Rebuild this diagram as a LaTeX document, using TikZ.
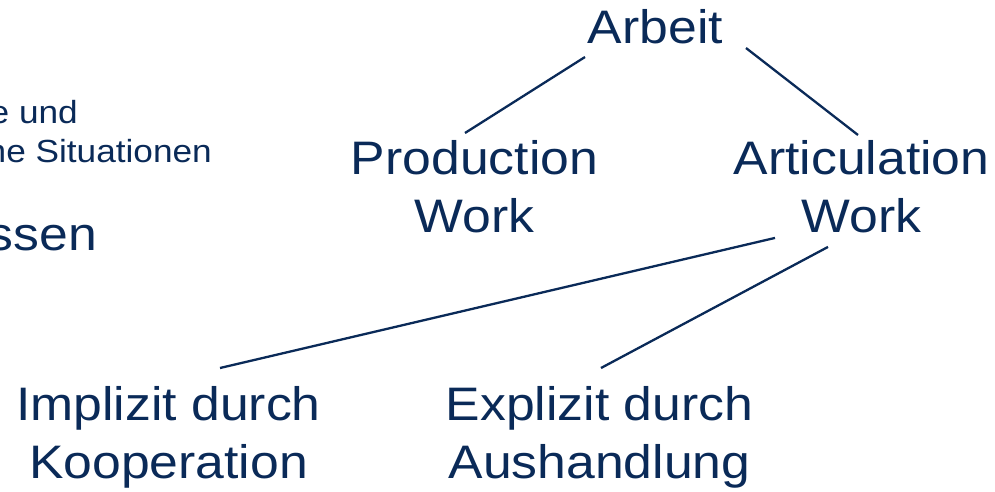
\documentclass[tikz,border=0pt]{standalone}
\usepackage{fontspec}
\setmainfont[FakeStretch=1.1]{Liberation Sans}
\definecolor{navy}{HTML}{0A2A58}
\begin{document}
\begin{tikzpicture}[x=1pt,y=-1pt,
  main/.style={font=\fontsize{47}{58}\selectfont, text=navy, inner sep=0pt, align=center},
  small/.style={font=\fontsize{32}{39}\selectfont, text=navy, inner sep=0pt},
  link/.style={draw=navy, line width=2.3pt}]
\useasboundingbox (0,0) rectangle (995,491);
\begin{scope}
\clip (0,0) rectangle (995,491);
\node[small, anchor=base east] (t1) at (78,123) {e und};
\node[small, anchor=base east] (t2) at (212,162) {ne Situationen};
\node[main, anchor=base east] (t3) at (97,250) {ssen};
\end{scope}
\node[main, anchor=base] (arbeit) at (655.5,43) {Arbeit};
\node[main, anchor=north] (prod) at (474.5,140) {Production\\Work};
\node[main, anchor=north] (artic) at (861.5,140) {Articulation\\Work};
\node[main, anchor=north] (impl) at (168.5,386) {Implizit durch\\Kooperation};
\node[main, anchor=north] (expl) at (599.5,386) {Explizit durch\\Aushandlung};
\draw[link] ([shift={(-70.5,14)}]arbeit.base) -- ([shift={(-9.5,-7)}]prod.north);
\draw[link] ([shift={(90.5,5)}]arbeit.base) -- ([shift={(-3.5,-5)}]artic.north);
\draw[link] ([shift={(-86.5,5)}]artic.south) -- ([shift={(51.5,-18)}]impl.north);
\draw[link] ([shift={(-33.5,14)}]artic.south) -- ([shift={(1.5,-18)}]expl.north);
\end{tikzpicture}
\end{document}
